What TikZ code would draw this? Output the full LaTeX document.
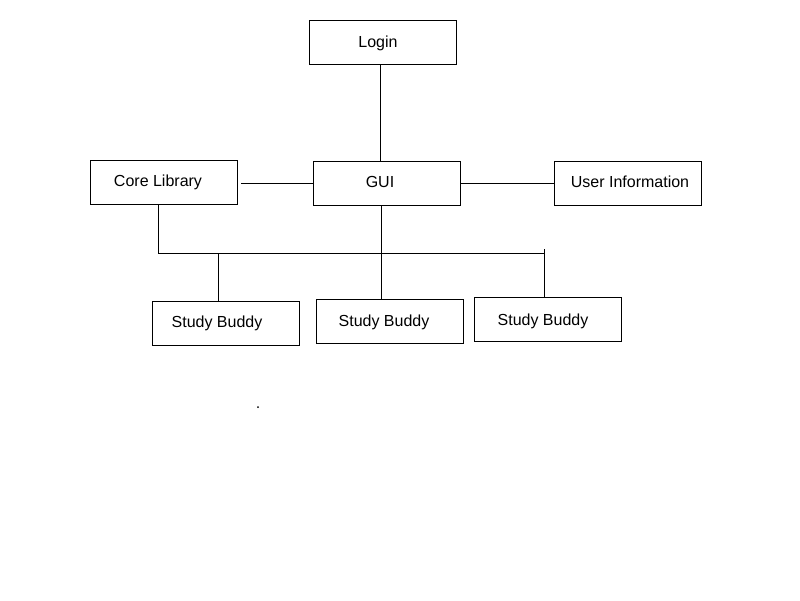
\documentclass[tikz,border=0pt]{standalone}
\usepackage{fontspec}
\setmainfont{Liberation Sans}
\begin{document}
\begin{tikzpicture}[x=1pt,y=-1pt,
  box/.style={draw,line width=1pt,rectangle,minimum width=147pt,minimum height=44pt,inner sep=0pt,anchor=north west},
  lbl/.style={font=\fontsize{16pt}{18pt}\selectfont,inner sep=0pt,text height=11.5pt,text depth=0pt},
  conn/.style={line width=1pt}]
\useasboundingbox (0,0) rectangle (800,600);
\node[box] (login) at (309,20) {};
\node[box] (core) at (90,160) {};
\node[box] (gui) at (313,161) {};
\node[box] (user) at (554,161) {};
\node[box] (sb1) at (152,301) {};
\node[box] (sb2) at (316,299) {};
\node[box] (sb3) at (474,297) {};
\node[lbl] (tlogin) at (378,42) {Login};
\node[lbl] (tcore) at (158,181) {Core Library};
\node[lbl] (tgui) at (380,182) {GUI};
\node[lbl] (tuser) at (630,182) {User Information};
\node[lbl] (tsb1) at (217,322) {Study Buddy};
\node[lbl] (tsb2) at (384,321) {Study Buddy};
\node[lbl] (tsb3) at (543,320) {Study Buddy};
\coordinate (bl) at (158,253);
\coordinate (br) at (544,253);
\coordinate (brtop) at (544,249);
\coordinate (j1) at (218,253);
\draw[conn] (login.south -| 380,0) -- (gui.north -| 380,0);
\draw[conn] ([xshift=3pt]core.east |- 0,183) -- (gui.west |- 0,183);
\draw[conn] (gui.east |- 0,183) -- (user.west |- 0,183);
\draw[conn] (core.south -| bl) -- (bl) -- (br);
\draw[conn] (gui.south -| 381,0) -- ([yshift=-1pt]sb2.north -| 381,0);
\draw[conn] (j1) -- (sb1.north -| j1);
\draw[conn] (brtop) -- (sb3.north -| br);
\fill (258,407) circle (1pt);
\end{tikzpicture}
\end{document}
